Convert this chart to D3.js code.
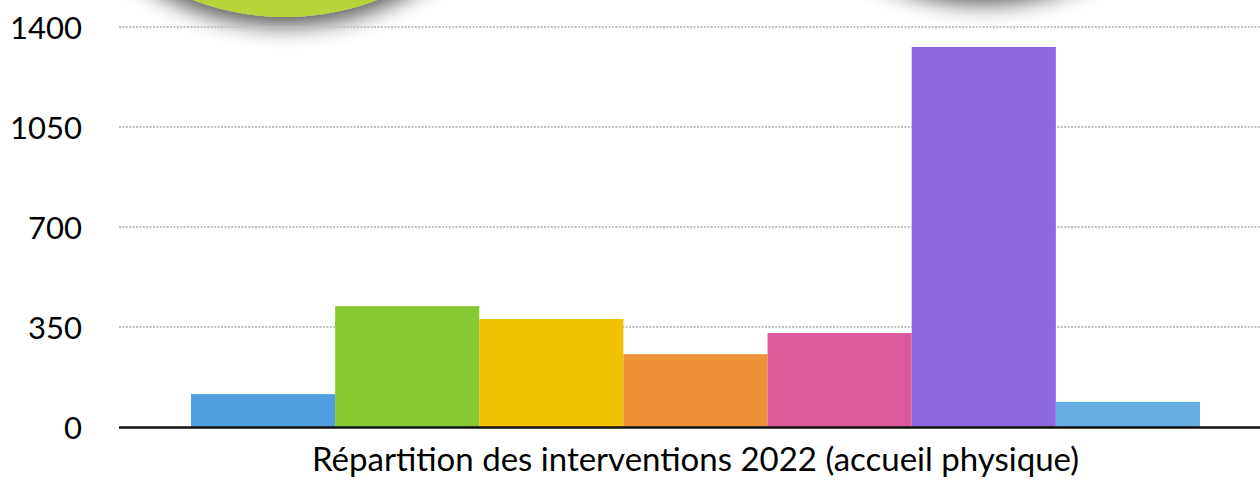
<!DOCTYPE html>
<html>
<head>
<meta charset="utf-8">
<script src="https://cdn.jsdelivr.net/npm/d3@7"></script>
<style>
  body { margin: 0; background: #fff; }
  svg text { font-family: Lato, "DejaVu Sans", sans-serif; fill: #000; }
</style>
</head>
<body>
<div id="container"></div>
<script>
var categories = ["c1", "c2", "c3", "c4", "c5", "c6", "c7"];
var values = [115, 423, 378, 255, 329, 1330, 88];
var colors = ["#4f9fe0", "#86c932", "#f0c200", "#ee9237", "#df5a9b", "#8c6add", "#66ade4"];
var tickValues = [0, 350, 700, 1050, 1400];
var title = "Répartition des interventions 2022 (accueil physique)";

var width = 1260;
var height = 481;

var svg = d3.select("#container").append("svg")
    .attr("width", width)
    .attr("height", height);

// shadow for the decorative discs at the top
var defs = svg.append("defs");
var f = defs.append("filter").attr("id", "shadow")
    .attr("x", "-30%").attr("y", "-30%").attr("width", "160%").attr("height", "160%");
f.append("feDropShadow")
    .attr("dx", 0).attr("dy", 9)
    .attr("stdDeviation", 11)
    .attr("flood-color", "#000")
    .attr("flood-opacity", 0.65);

svg.append("circle")
    .attr("cx", 285).attr("cy", -240).attr("r", 257)
    .attr("fill", "#b8d43b")
    .attr("filter", "url(#shadow)");
svg.append("circle")
    .attr("cx", 983).attr("cy", -262).attr("r", 257)
    .attr("fill", "#fff")
    .attr("filter", "url(#shadow)");

var x = d3.scaleBand()
    .domain(categories)
    .range([191, 1200])
    .padding(0);

var y = d3.scaleLinear()
    .domain([0, 1400])
    .range([427, 27]);

// grid
var grid = svg.append("g").attr("id", "grid");
grid.selectAll("line")
    .data(tickValues.filter(function(d) { return d > 0; }))
    .enter().append("line")
    .attr("x1", 119).attr("x2", width)
    .attr("y1", function(d) { return y(d); })
    .attr("y2", function(d) { return y(d); })
    .attr("stroke", "#c2c2c2")
    .attr("stroke-width", 2)
    .attr("stroke-dasharray", "2,1.4");

// y labels
var yAxis = d3.axisLeft(y).tickValues(tickValues).tickSize(0).tickPadding(0)
    .tickFormat(d3.format("d"));
var gy = svg.append("g").attr("transform", "translate(82,0)").call(yAxis);
gy.select(".domain").remove();
gy.selectAll("text")
    .style("font-size", "31px")
    .attr("dy", "0.36em");

// bars
svg.append("g").attr("id", "bars")
  .selectAll("rect")
    .data(categories)
    .enter().append("rect")
    .attr("x", function(d) { return x(d); })
    .attr("width", x.bandwidth())
    .attr("y", function(d, i) { return y(values[i]); })
    .attr("height", function(d, i) { return y(0) - y(values[i]); })
    .attr("fill", function(d, i) { return colors[i]; });

// baseline
svg.append("line")
    .attr("x1", 119).attr("x2", width)
    .attr("y1", y(0) + 0.5).attr("y2", y(0) + 0.5)
    .attr("stroke", "#111")
    .attr("stroke-width", 2.5);

svg.append("text")
    .attr("x", (x.range()[0] + x.range()[1]) / 2)
    .attr("y", 471)
    .attr("text-anchor", "middle")
    .style("font-size", "33px")
    .text(title);
</script>
</body>
</html>
